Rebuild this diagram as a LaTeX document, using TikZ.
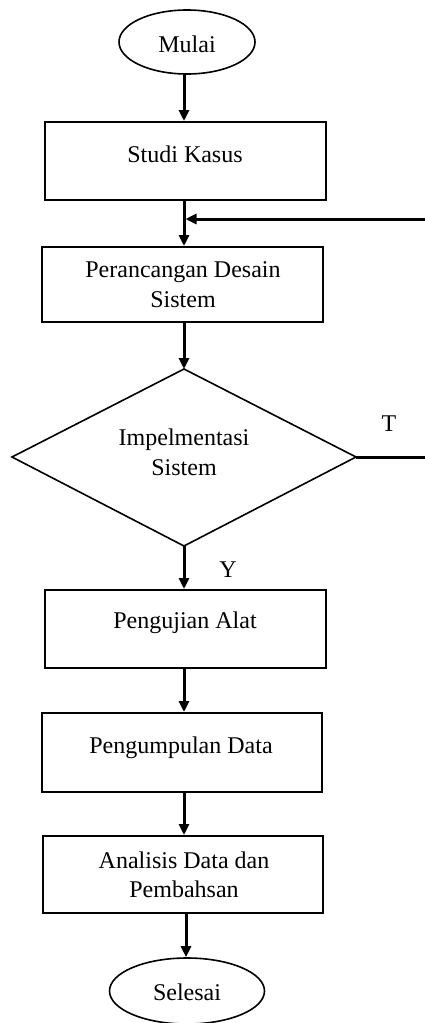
\documentclass[tikz,border=0pt]{standalone}
\usepackage{fontspec}
\setmainfont{Liberation Serif}
\usetikzlibrary{arrows.meta,shapes.geometric}
\begin{document}
\begin{tikzpicture}[x=1pt,y=-1pt,
  every node/.style={font=\fontsize{24}{30}\selectfont},
  boxshape/.style={draw,line width=2pt,rectangle,inner sep=0pt},
  ovalshape/.style={draw,line width=1.6pt,ellipse,inner sep=0pt},
  txt/.style={anchor=base,inner sep=0pt},
  flow/.style={line width=3pt,-{Triangle[length=11pt,width=10pt]}},
  plainline/.style={line width=3pt}]
\useasboundingbox (0,0) rectangle (425,1023);
% shapes
\node[ovalshape,minimum width=136pt,minimum height=64pt] (mulai) at (187,42) {};
\node[boxshape,minimum width=281pt,minimum height=78pt] (sk) at (185.5,161) {};
\node[boxshape,minimum width=281pt,minimum height=75pt] (pd) at (182.5,284.5) {};
\draw[line width=1.6pt] (184,369) coordinate (dtop) -- (356,457) coordinate (dright)
   -- (184,546) coordinate (dbot) -- (12,457) coordinate (dleft) -- cycle;
\node[boxshape,minimum width=281pt,minimum height=78pt] (pa) at (185.5,629) {};
\node[boxshape,minimum width=280pt,minimum height=79pt] (pg) at (182,752.5) {};
\node[boxshape,minimum width=280pt,minimum height=77pt] (an) at (183,874.5) {};
\node[ovalshape,minimum width=155pt,minimum height=66pt] (selesai) at (187,991) {};
% texts
\node[txt] (tmulai) at (187,52) {Mulai};
\node[txt] (tsk) at (185,162) {Studi Kasus};
\node[txt] (tpd1) at (183,277) {Perancangan Desain};
\node[txt] (tpd2) at (183,307) {Sistem};
\node[txt] (tim1) at (184,445) {Impelmentasi};
\node[txt] (tim2) at (184,475) {Sistem};
\node[txt] (tT) at (389,431) {T};
\node[txt] (tY) at (228,577) {Y};
\node[txt] (tpa) at (185,628) {Pengujian Alat};
\node[txt] (tpg) at (181,753) {Pengumpulan Data};
\node[txt] (tan1) at (184,868) {Analisis Data dan};
\node[txt] (tan2) at (184,897) {Pembahsan};
\node[txt] (tsel) at (187,1000) {Selesai};
% connectors
\coordinate (cx) at (184,0);
\coordinate (cy) at (186,0);
\draw[flow] (cx|-mulai.south) -- (cx|-sk.north);
\draw[flow] (cx|-sk.south) -- (cx|-pd.north);
\draw[flow] (cx|-pd.south) -- (dtop);
\draw[flow] (dbot) -- (cx|-pa.north);
\draw[flow] (cx|-pa.south) -- (cx|-pg.north);
\draw[flow] (cx|-pg.south) -- (cx|-an.north);
\draw[flow] (cy|-an.south) -- (cy|-selesai.north);
\coordinate (fbR) at (430,457);
\coordinate (fbT) at (430,219);
\coordinate (fbJ) at (185.5,219);
\draw[plainline] (dright) -- (fbR) -- (fbT);
\draw[flow] (fbT) -- (fbJ);
\end{tikzpicture}
\end{document}
